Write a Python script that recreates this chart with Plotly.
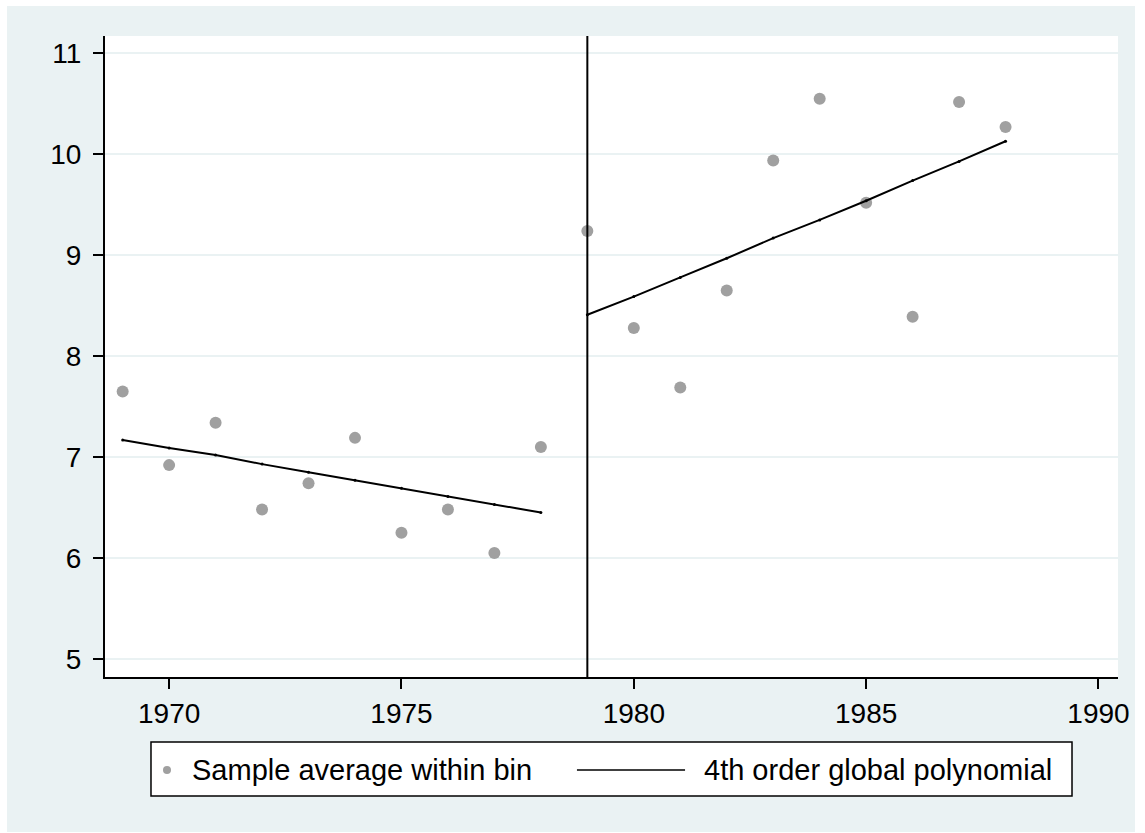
import plotly.graph_objects as go

years = list(range(1969, 1989))
bin_avg = [7.65, 6.92, 7.34, 6.48, 6.74, 7.19, 6.25, 6.48, 6.05, 7.10,
           9.24, 8.28, 7.69, 8.65, 9.94, 10.55, 9.52, 8.39, 10.52, 10.27]
fit_years_left = list(range(1969, 1979))
fit_left = [7.17, 7.09, 7.02, 6.93, 6.85, 6.77, 6.69, 6.61, 6.53, 6.45]
fit_years_right = list(range(1979, 1989))
fit_right = [8.41, 8.59, 8.78, 8.97, 9.17, 9.35, 9.54, 9.74, 9.93, 10.13]
cutoff = 1979
x_ticks = [1970, 1975, 1980, 1985, 1990]
y_ticks = [5, 6, 7, 8, 9, 10, 11]
legend_labels = ["Sample average within bin", "4th order global polynomial"]

BG = "#EAF2F3"
FONT = "Liberation Sans, Arial, sans-serif"

fig = go.Figure()
fig.add_trace(go.Scatter(x=years, y=bin_avg, mode="markers",
                         marker=dict(color="#A0A0A0", size=12),
                         name=legend_labels[0], showlegend=False))
fig.add_trace(go.Scatter(x=fit_years_left, y=fit_left, mode="lines+markers",
                         line=dict(color="black", width=2),
                         marker=dict(color="black", size=3),
                         name=legend_labels[1], showlegend=False))
fig.add_trace(go.Scatter(x=fit_years_right, y=fit_right, mode="lines+markers",
                         line=dict(color="black", width=2),
                         marker=dict(color="black", size=3),
                         name=legend_labels[1], showlegend=False))

# cutoff line
fig.add_shape(type="line", xref="x", yref="paper", x0=cutoff, x1=cutoff, y0=0, y1=1,
              line=dict(color="black", width=2), layer="above")

# manual legend (paper coordinates)
fig.add_shape(type="rect", xref="paper", yref="paper", x0=0.0454, x1=0.9546,
              y0=-0.1856, y1=-0.1014, line=dict(color="black", width=1.5),
              fillcolor="white", layer="below")
fig.add_shape(type="circle", xref="paper", yref="paper", xsizemode="pixel", ysizemode="pixel",
              xanchor=0.0612, yanchor=-0.1451, x0=-4, x1=4, y0=-4, y1=4,
              line=dict(color="#A0A0A0", width=0), fillcolor="#A0A0A0")
fig.add_shape(type="line", xref="paper", yref="paper", x0=0.4659, x1=0.5726,
              y0=-0.1451, y1=-0.1451, line=dict(color="black", width=1.5))
fig.add_annotation(xref="paper", yref="paper", x=0.0839, y=-0.1451, text=legend_labels[0],
                   showarrow=False, xanchor="left", yanchor="middle",
                   font=dict(family=FONT, size=29, color="black"))
fig.add_annotation(xref="paper", yref="paper", x=0.5893, y=-0.1451, text=legend_labels[1],
                   showarrow=False, xanchor="left", yanchor="middle",
                   font=dict(family=FONT, size=29, color="black"))

fig.update_layout(
    width=1128, height=826,
    margin=dict(l=98, r=17, t=30, b=155, autoexpand=False),
    paper_bgcolor=BG, plot_bgcolor="white",
    font=dict(family=FONT, size=28, color="black"),
    showlegend=False,
)
fig.update_xaxes(range=[1968.62, 1990.42], tickvals=x_ticks, ticks="outside", ticklen=10,
                 tickwidth=1.5, tickcolor="black", showline=True, linecolor="black", linewidth=2,
                 showgrid=False, zeroline=False, tickfont=dict(size=28),
                 ticklabeloverflow="allow", automargin=False)
fig.update_yaxes(range=[4.82, 11.173], tickvals=y_ticks, ticks="outside", ticklen=10,
                 tickwidth=1.5, tickcolor="black", showline=True, linecolor="black", linewidth=2,
                 showgrid=True, gridcolor=BG, gridwidth=2, zeroline=False,
                 tickfont=dict(size=28), ticklabelstandoff=6, automargin=False)

page_js = ("document.body.style.margin='6px 0 0 7px';"
           "document.body.style.overflow='hidden';"
           "document.documentElement.style.overflow='hidden';")
fig.write_html("out.html", post_script=page_js)
